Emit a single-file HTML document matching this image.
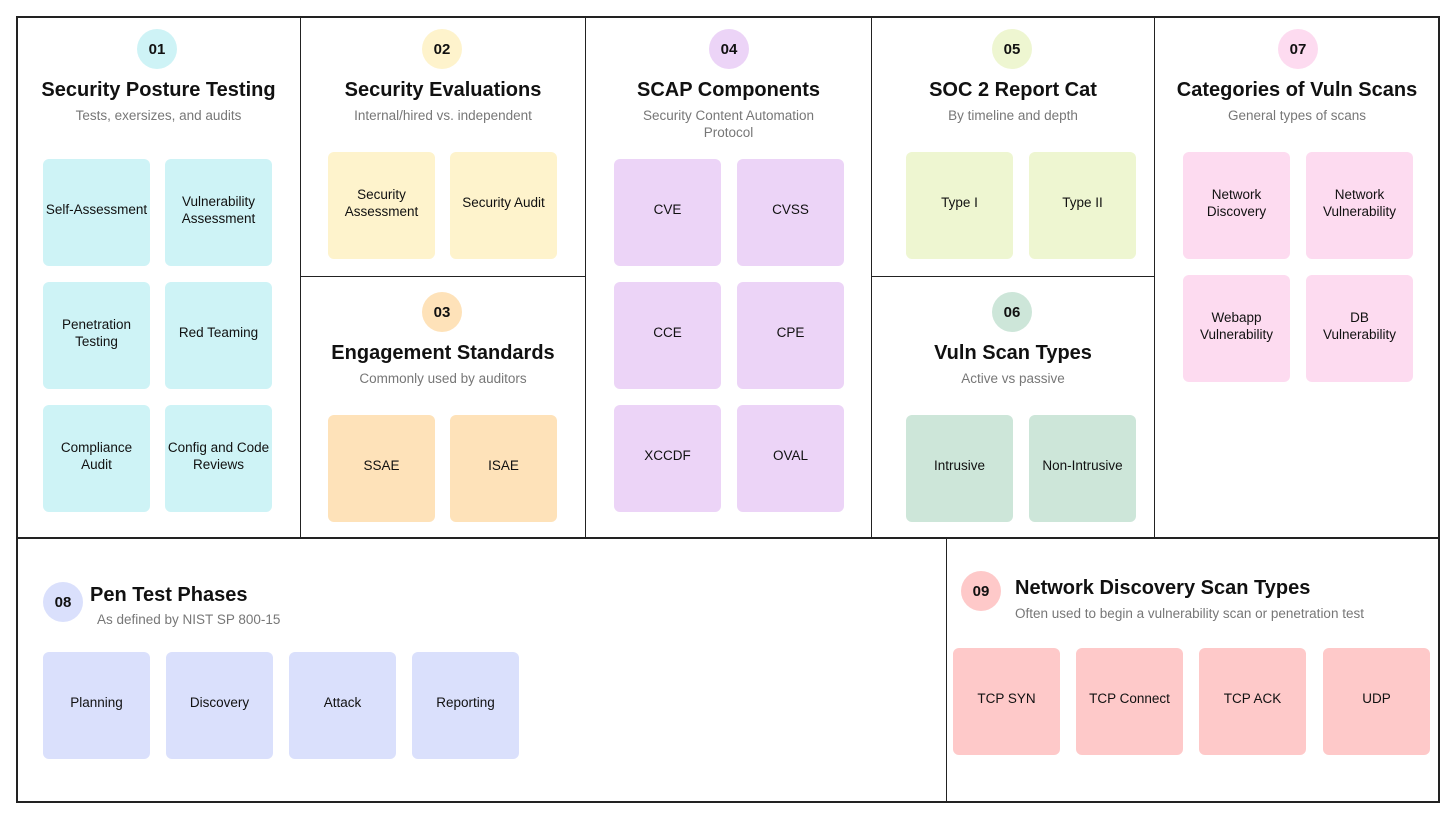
<!DOCTYPE html>
<html><head><meta charset="utf-8"><style>
body{margin:0;width:1456px;height:819px;background:#fff;position:relative;overflow:hidden;font-family:"Liberation Sans",sans-serif;}
.l{position:absolute;background:#222;}
.s{position:absolute;width:107px;height:101px;padding-bottom:6px;border-radius:6px;display:flex;align-items:center;justify-content:center;text-align:center;font-size:13.5px;color:#111;line-height:17px;}
.c{position:absolute;width:40px;height:40px;border-radius:50%;display:flex;align-items:center;justify-content:center;font-weight:bold;font-size:15px;color:#111;}
.t{position:absolute;font-weight:bold;font-size:20px;color:#111;text-align:center;white-space:nowrap;}
.u{position:absolute;font-size:13.5px;color:#777;text-align:center;line-height:17px;}
.cy{background:#cef3f6}.ye{background:#fef3cc}.or{background:#fee2b9}.pu{background:#ecd4f7}.gy{background:#eef6d1}.gr{background:#cde6d9}.pk{background:#fddbf0}.lv{background:#dae0fc}.rd{background:#fec9c9}
</style></head><body>
<div class="l" style="left:16px;top:16px;width:1424px;height:2px"></div>
<div class="l" style="left:16px;top:801px;width:1424px;height:2px"></div>
<div class="l" style="left:16px;top:16px;width:2px;height:787px"></div>
<div class="l" style="left:1438px;top:16px;width:2px;height:787px"></div>
<div class="l" style="left:16px;top:537px;width:1424px;height:2px"></div>
<div class="l" style="left:300px;top:16px;width:1px;height:522px"></div>
<div class="l" style="left:585px;top:16px;width:1px;height:522px"></div>
<div class="l" style="left:871px;top:16px;width:1px;height:522px"></div>
<div class="l" style="left:1154px;top:16px;width:1px;height:522px"></div>
<div class="l" style="left:946px;top:538px;width:1px;height:264px"></div>
<div class="l" style="left:300px;top:276px;width:286px;height:1px"></div>
<div class="l" style="left:871px;top:276px;width:284px;height:1px"></div>

<!-- 01 -->
<div class="c cy" style="left:137px;top:29px">01</div>
<div class="t" style="left:17px;width:283px;top:79px">Security Posture Testing</div>
<div class="u" style="left:17px;width:283px;top:107px">Tests, exersizes, and audits</div>
<div class="s cy" style="left:43px;top:159px">Self-Assessment</div>
<div class="s cy" style="left:165px;top:159px">Vulnerability<br>Assessment</div>
<div class="s cy" style="left:43px;top:282px">Penetration<br>Testing</div>
<div class="s cy" style="left:165px;top:282px">Red Teaming</div>
<div class="s cy" style="left:43px;top:405px">Compliance<br>Audit</div>
<div class="s cy" style="left:165px;top:405px">Config and Code<br>Reviews</div>

<!-- 02 -->
<div class="c ye" style="left:422px;top:29px">02</div>
<div class="t" style="left:301px;width:284px;top:79px">Security Evaluations</div>
<div class="u" style="left:301px;width:284px;top:107px">Internal/hired vs. independent</div>
<div class="s ye" style="left:328px;top:152px">Security<br>Assessment</div>
<div class="s ye" style="left:450px;top:152px">Security Audit</div>

<!-- 03 -->
<div class="c or" style="left:422px;top:292px">03</div>
<div class="t" style="left:301px;width:284px;top:342px">Engagement Standards</div>
<div class="u" style="left:301px;width:284px;top:370px">Commonly used by auditors</div>
<div class="s or" style="left:328px;top:415px">SSAE</div>
<div class="s or" style="left:450px;top:415px">ISAE</div>

<!-- 04 -->
<div class="c pu" style="left:709px;top:29px">04</div>
<div class="t" style="left:586px;width:285px;top:79px">SCAP Components</div>
<div class="u" style="left:626px;width:205px;top:107px">Security Content Automation Protocol</div>
<div class="s pu" style="left:614px;top:159px">CVE</div>
<div class="s pu" style="left:737px;top:159px">CVSS</div>
<div class="s pu" style="left:614px;top:282px">CCE</div>
<div class="s pu" style="left:737px;top:282px">CPE</div>
<div class="s pu" style="left:614px;top:405px">XCCDF</div>
<div class="s pu" style="left:737px;top:405px">OVAL</div>

<!-- 05 -->
<div class="c gy" style="left:992px;top:29px">05</div>
<div class="t" style="left:872px;width:282px;top:79px">SOC 2 Report Cat</div>
<div class="u" style="left:872px;width:282px;top:107px">By timeline and depth</div>
<div class="s gy" style="left:906px;top:152px">Type I</div>
<div class="s gy" style="left:1029px;top:152px">Type II</div>

<!-- 06 -->
<div class="c gr" style="left:992px;top:292px">06</div>
<div class="t" style="left:872px;width:282px;top:342px">Vuln Scan Types</div>
<div class="u" style="left:872px;width:282px;top:370px">Active vs passive</div>
<div class="s gr" style="left:906px;top:415px">Intrusive</div>
<div class="s gr" style="left:1029px;top:415px">Non-Intrusive</div>

<!-- 07 -->
<div class="c pk" style="left:1278px;top:29px">07</div>
<div class="t" style="left:1155px;width:284px;top:79px">Categories of Vuln Scans</div>
<div class="u" style="left:1155px;width:284px;top:107px">General types of scans</div>
<div class="s pk" style="left:1183px;top:152px">Network<br>Discovery</div>
<div class="s pk" style="left:1306px;top:152px">Network<br>Vulnerability</div>
<div class="s pk" style="left:1183px;top:275px">Webapp<br>Vulnerability</div>
<div class="s pk" style="left:1306px;top:275px">DB<br>Vulnerability</div>

<!-- 08 -->
<div class="c lv" style="left:43px;top:582px">08</div>
<div class="t" style="left:90px;top:584px;text-align:left">Pen Test Phases</div>
<div class="u" style="left:97px;top:611px;text-align:left;white-space:nowrap">As defined by NIST SP 800-15</div>
<div class="s lv" style="left:43px;top:652px">Planning</div>
<div class="s lv" style="left:166px;top:652px">Discovery</div>
<div class="s lv" style="left:289px;top:652px">Attack</div>
<div class="s lv" style="left:412px;top:652px">Reporting</div>

<!-- 09 -->
<div class="c rd" style="left:961px;top:571px">09</div>
<div class="t" style="left:1015px;top:577px;text-align:left">Network Discovery Scan Types</div>
<div class="u" style="left:1015px;top:605px;text-align:left;white-space:nowrap">Often used to begin a vulnerability scan or penetration test</div>
<div class="s rd" style="left:953px;top:648px">TCP SYN</div>
<div class="s rd" style="left:1076px;top:648px">TCP Connect</div>
<div class="s rd" style="left:1199px;top:648px">TCP ACK</div>
<div class="s rd" style="left:1323px;top:648px">UDP</div>
</body></html>
